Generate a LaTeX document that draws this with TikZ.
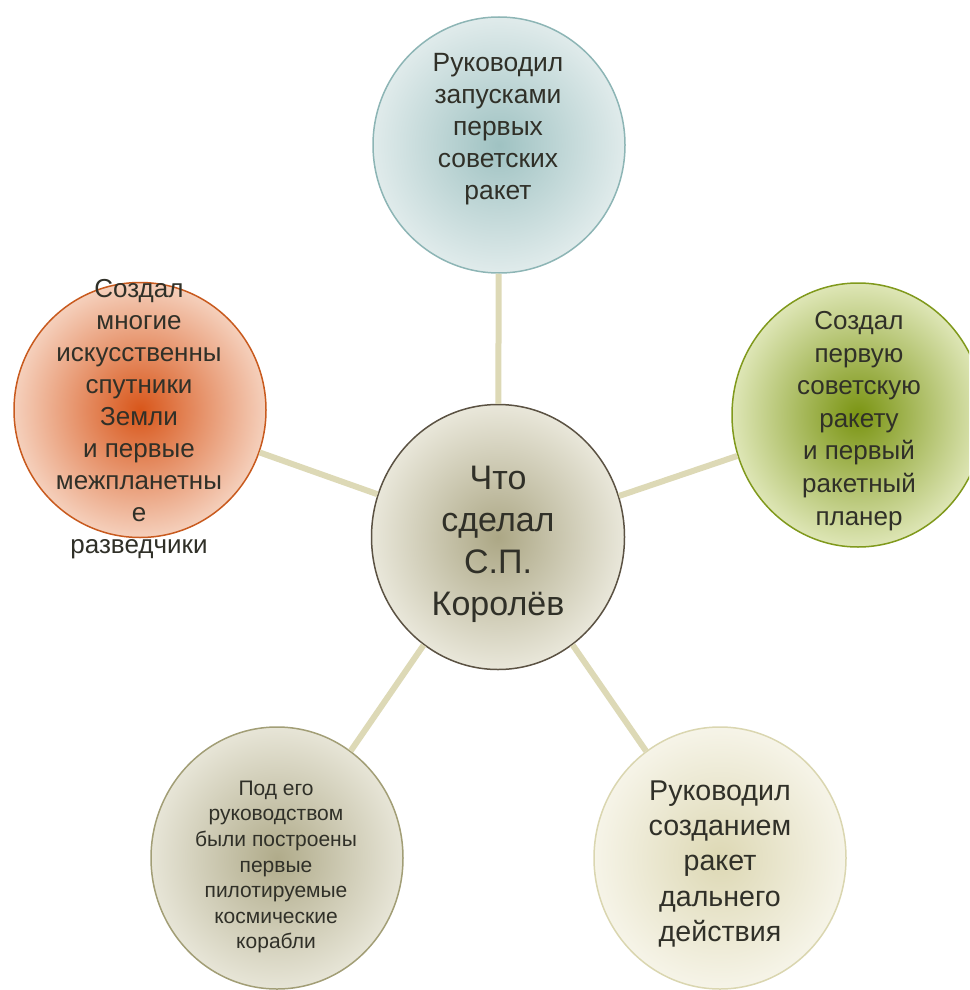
\documentclass[tikz,border=0pt]{standalone}
\usepackage{fontspec}
\setmainfont{Liberation Sans}
\usetikzlibrary{shapes.geometric}
\definecolor{textoescuro}{HTML}{303028}
\definecolor{ligacaocor}{HTML}{DDD9B6}
\definecolor{centroin}{HTML}{ACA785}
\definecolor{centroout}{HTML}{E9E7DA}
\definecolor{centroborda}{HTML}{5B5243}
\definecolor{topoin}{HTML}{9FC2C2}
\definecolor{topoout}{HTML}{E0EBEB}
\definecolor{topoborda}{HTML}{8DB5B5}
\definecolor{esqin}{HTML}{D8561A}
\definecolor{esqout}{HTML}{F5D0BC}
\definecolor{esqborda}{HTML}{C85A1E}
\definecolor{dirin}{HTML}{7A9412}
\definecolor{dirout}{HTML}{DEE6B6}
\definecolor{dirborda}{HTML}{80991C}
\definecolor{baixoesqin}{HTML}{B0AB8A}
\definecolor{baixoesqout}{HTML}{E7E5D7}
\definecolor{baixoesqborda}{HTML}{A29E76}
\definecolor{baixodirin}{HTML}{DDD8B4}
\definecolor{baixodirout}{HTML}{F6F4E8}
\definecolor{baixodirborda}{HTML}{DAD6B0}
\tikzset{
	bolha/.style n args={3}{ellipse, draw=#3, line width=0.75pt, inner color=#1, outer color=#2, minimum width=126pt, minimum height=131pt, inner sep=0pt},
	texto/.style={align=center, text=textoescuro, font=\fontsize{13}{16.3}\selectfont},
	ligacao/.style={draw=ligacaocor, line width=3pt},
}
\begin{document}
\begin{tikzpicture}[x=0.5pt, y=-0.5pt] %Escala: 1 pixel = 0.5pt
	\useasboundingbox (0,0) rectangle (969,990); %Margens
	\clip (0,0) rectangle (969,990);
		%Círculos
	\node[bolha={centroin}{centroout}{centroborda}, minimum width=126.5pt, minimum height=132.5pt] (centro) at (498,537) {};
	\node[bolha={topoin}{topoout}{topoborda}, minimum height=128pt] (topo) at (499,145) {};
	\node[bolha={esqin}{esqout}{esqborda}, minimum height=127.5pt] (esq) at (140,410) {};
	\node[bolha={dirin}{dirout}{dirborda}, minimum height=132pt] (dir) at (858,415) {};
	\node[bolha={baixoesqin}{baixoesqout}{baixoesqborda}] (baixoesq) at (277,858) {};
	\node[bolha={baixodirin}{baixodirout}{baixodirborda}] (baixodir) at (720,858) {};
		%Ligações
	\draw[ligacao] (centro) -- (topo);
	\draw[ligacao] (centro) -- (esq);
	\draw[ligacao] (centro) -- (dir);
	\draw[ligacao] (centro) -- (baixoesq);
	\draw[ligacao] (centro) -- (baixodir);
		%Textos
	\node[texto, font=\fontsize{17}{21}\selectfont] (centro-txt) at (498,544) {Что\\сделал\\С.П.\\Королёв};
	\node[texto, font=\fontsize{13.2}{16}\selectfont] (topo-txt) at (498,129) {Руководил\\запусками\\первых\\советских\\ракет};
	\node[texto, font=\fontsize{13}{16}\selectfont] (esq-txt) at (139,419) {Создал\\многие\\искусственны\\спутники\\Земли\\и первые\\межпланетны\\е\\разведчики};
	\node[texto] (dir-txt) at (859,421) {Создал\\первую\\советскую\\ракету\\и первый\\ракетный\\планер};
	\node[texto, font=\fontsize{10.5}{12.8}\selectfont] (baixoesq-txt) at (276,867) {Под его\\руководством\\были построены\\первые\\пилотируемые\\космические\\корабли};
	\node[texto, font=\fontsize{14.3}{17.7}\selectfont] (baixodir-txt) at (720,864) {Руководил\\созданием\\ракет\\дальнего\\действия};
\end{tikzpicture}
\end{document}
